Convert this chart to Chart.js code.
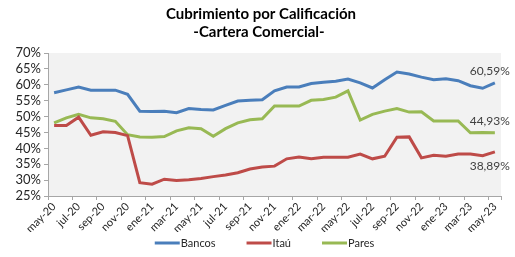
<!DOCTYPE html>
<html>
<head>
<meta charset="utf-8">
<script src="https://cdn.jsdelivr.net/npm/chart.js@4.4.0/dist/chart.umd.min.js"></script>
<style>
  html, body { margin: 0; padding: 0; background: #fff; }
  #wrap { width: 515px; height: 257px; }
</style>
</head>
<body>
<div id="wrap"><canvas id="myChart" width="515" height="257"></canvas></div>
<script>
// months may-20 .. may-23
var meses = ['may','jun','jul','ago','sep','oct','nov','dic','ene','feb','mar','abr'];
var labels = [];
for (var i = 0; i < 37; i++) {
  var a = 20 + Math.floor((4 + i) / 12);
  labels.push(meses[i % 12] + '-' + a);
}

var bancos = [57.5, 58.4, 59.3, 58.3, 58.3, 58.3, 57.0, 51.7, 51.6, 51.7, 51.2, 52.5, 52.2, 52.1, 53.5, 54.9, 55.1, 55.3, 58.1, 59.3, 59.3, 60.4, 60.8, 61.1, 61.8, 60.6, 59.0, 61.6, 64.0, 63.4, 62.4, 61.6, 61.9, 61.3, 59.7, 58.9, 60.59];
var itau   = [47.2, 47.2, 49.8, 44.1, 45.2, 45.0, 44.0, 29.2, 28.7, 30.3, 29.9, 30.1, 30.5, 31.1, 31.6, 32.3, 33.5, 34.1, 34.4, 36.7, 37.3, 36.7, 37.2, 37.2, 37.2, 38.2, 36.7, 37.5, 43.5, 43.6, 37.0, 37.8, 37.5, 38.2, 38.2, 37.7, 38.89];
var pares  = [48.0, 49.6, 50.7, 49.6, 49.3, 48.5, 44.3, 43.6, 43.5, 43.7, 45.5, 46.5, 46.2, 43.8, 46.2, 48.0, 49.0, 49.3, 53.3, 53.3, 53.3, 55.1, 55.4, 56.1, 58.1, 48.9, 50.7, 51.7, 52.5, 51.4, 51.5, 48.6, 48.6, 48.6, 44.9, 45.0, 44.93];
var ultimos = ['60,59%', '38,89%', '44,93%'];
var titulo = ['Cubrimiento por Calificación', '-Cartera Comercial-'];

var FONT = 'Lato, "Open Sans", sans-serif';

var fondo = {
  id: 'fondo',
  beforeDraw: function (chart) {
    var a = chart.chartArea, ctx = chart.ctx;
    ctx.save();
    ctx.fillStyle = '#f2f2f2';
    ctx.fillRect(a.left, a.top, a.right - a.left, a.bottom - a.top);
    ctx.restore();
  }
};

// title, last value labels and legend
var extras = {
  id: 'extras',
  afterDatasetsDraw: function (chart) {
    var ctx = chart.ctx;
    var dy = [-12, 14, -12];
    ctx.save();
    ctx.font = '12px ' + FONT;
    ctx.fillStyle = '#404040';
    ctx.textAlign = 'right';
    ctx.textBaseline = 'middle';
    chart.data.datasets.forEach(function (ds, k) {
      var pts = chart.getDatasetMeta(k).data;
      var p = pts[pts.length - 1];
      ctx.fillText(ultimos[k], p.x + 15, p.y + dy[k]);
    });
    ctx.restore();
  },
  afterDraw: function (chart) {
    var ctx = chart.ctx;
    var ds = chart.data.datasets;
    ctx.save();
    ctx.fillStyle = '#000';
    ctx.font = 'bold 15px ' + FONT;
    ctx.textAlign = 'center';
    ctx.textBaseline = 'middle';
    ctx.fillText(titulo[0], 261, 14);
    ctx.fillText(titulo[1], 259, 32);

    var gap = 30, lineW = 25;
    ctx.font = '11px ' + FONT;
    var total = 0;
    ds.forEach(function (d, k) {
      total += lineW + 2 + ctx.measureText(d.label).width + (k < ds.length - 1 ? gap : 0);
    });
    var x = 265 - total / 2;
    var y = 243;
    ds.forEach(function (d) {
      ctx.strokeStyle = d.borderColor;
      ctx.lineWidth = 3;
      ctx.beginPath();
      ctx.moveTo(x, y);
      ctx.lineTo(x + lineW, y);
      ctx.stroke();
      ctx.fillStyle = '#262626';
      ctx.textAlign = 'left';
      ctx.fillText(d.label, x + lineW + 1, y);
      x += lineW + 2 + ctx.measureText(d.label).width + gap;
    });
    ctx.restore();
  }
};

var ctx = document.getElementById('myChart').getContext('2d');
var chart = new Chart(ctx, {
  type: 'line',
  data: {
    labels: labels,
    datasets: [
      { label: 'Bancos', data: bancos, borderColor: '#4a7ebb', backgroundColor: '#4a7ebb', borderWidth: 3 },
      { label: 'Itaú', data: itau, borderColor: '#be4b48', backgroundColor: '#be4b48', borderWidth: 3 },
      { label: 'Pares', data: pares, borderColor: '#98b954', backgroundColor: '#98b954', borderWidth: 3 }
    ]
  },
  options: {
    responsive: false,
    animation: false,
    devicePixelRatio: 1,
    layout: { padding: { left: 0, right: 14, top: 53, bottom: 25 } },
    elements: {
      line: { borderWidth: 3, tension: 0 },
      point: { radius: 0 }
    },
    plugins: {
      title: { display: false },
      legend: { display: false },
      tooltip: { enabled: false }
    },
    scales: {
      x: {
        offset: true,
        grid: {
          offset: true,
          drawOnChartArea: false,
          tickLength: 4,
          color: function (c) { return c.index % 2 ? 'rgba(0,0,0,0)' : '#a6a6a6'; }
        },
        border: { color: '#a6a6a6' },
        ticks: {
          autoSkip: false,
          maxRotation: 45,
          minRotation: 45,
          color: '#262626',
          font: { family: FONT, size: 11 },
          padding: 0,
          callback: function (v, i) { return i % 2 ? '' : labels[i]; }
        },
        afterFit: function (s) { s.height = 36; }
      },
      y: {
        min: 25,
        max: 70,
        grid: { drawOnChartArea: false, tickLength: 4, color: '#a6a6a6' },
        border: { color: '#a6a6a6' },
        ticks: {
          autoSkip: false,
          stepSize: 5,
          color: '#262626',
          font: { family: FONT, size: 13 },
          padding: 3,
          callback: function (v) { return v + '%'; }
        },
        afterFit: function (s) { s.width = 48; }
      }
    }
  },
  plugins: [fondo, extras]
});
</script>
</body>
</html>
